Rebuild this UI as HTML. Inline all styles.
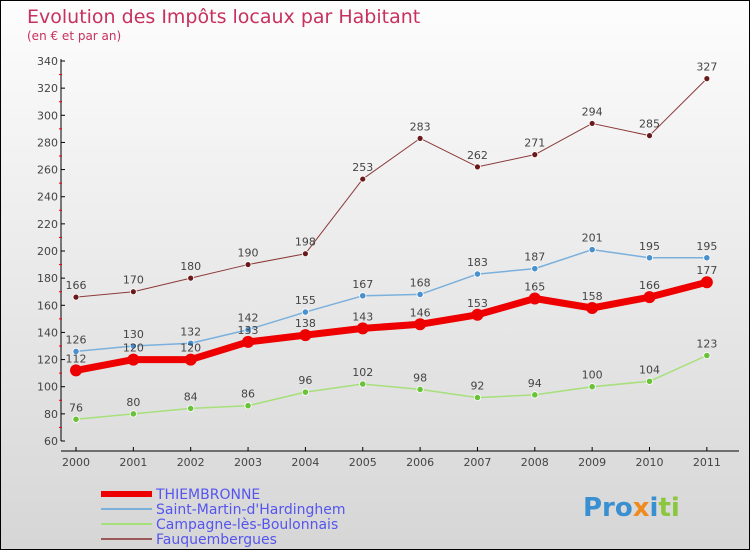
<!DOCTYPE html>
<html><head><meta charset="utf-8"><style>
body{margin:0;}
#wrap{position:relative;width:748px;height:548px;border:1px solid #000;background:linear-gradient(#fdfdfd,#d6d6d6);font-family:"DejaVu Sans","Liberation Sans",sans-serif;overflow:hidden}
</style></head><body>
<div id="wrap">
<svg id="chart" width="748" height="548"></svg>
</div>
<script>
const years=[2000,2001,2002,2003,2004,2005,2006,2007,2008,2009,2010,2011];
const thiem=[112,120,120,133,138,143,146,153,165,158,166,177];
const stmartin=[126,130,132,142,155,167,168,183,187,201,195,195];
const campagne=[76,80,84,86,96,102,98,92,94,100,104,123];
const fauq=[166,170,180,190,198,253,283,262,271,294,285,327];
const yTicks=[60,80,100,120,140,160,180,200,220,240,260,280,300,320,340];
const NS='http://www.w3.org/2000/svg';
const svg=document.getElementById('chart');
function X(i){return 75+i*57.35;}
function Y(v){return 440-(v-60)*380/280;}
function el(t,a,p){const e=document.createElementNS(NS,t);for(const k in a)e.setAttribute(k,a[k]);(p||svg).appendChild(e);return e;}
let t=el('text',{x:26,y:22,fill:'#c8305f','font-size':19});t.textContent='Evolution des Impôts locaux par Habitant';

t=el('text',{x:26,y:39,fill:'#c8305f','font-size':12});t.textContent='(en € et par an)';

// axes
let a=el('line',{x1:60,y1:58,x2:60,y2:440,stroke:'#000'});
a=el('line',{x1:60,y1:450,x2:738,y2:450,stroke:'#000'});
yTicks.forEach((v,i)=>{
  el('line',{x1:60,y1:Y(v),x2:64,y2:Y(v),stroke:'#000'});
  if(i<yTicks.length-1)el('line',{x1:58,y1:Y(v+10),x2:61,y2:Y(v+10),stroke:'#e00'});
  const tt=el('text',{x:57,y:Y(v)+4,'text-anchor':'end','font-size':11,fill:'#444'});tt.textContent=v;
  
});
years.forEach((yr,i)=>{
  el('line',{x1:X(i),y1:446,x2:X(i),y2:450,stroke:'#000'});
  const tt=el('text',{x:X(i),y:465,'text-anchor':'middle','font-size':11,fill:'#444'});tt.textContent=yr;
  
});
function series(vals,color,w,r,name,dotFill){
  const g=el('g',{});
  el('polyline',{points:vals.map((v,i)=>X(i)+','+Y(v)).join(' '),fill:'none',stroke:color,'stroke-width':w,'stroke-linejoin':'round'},g);
  vals.forEach((v,i)=>{
    const c=el('circle',{cx:X(i),cy:Y(v),r:r,fill:dotFill,stroke:'#fff','stroke-width':r>4?0:0.8},g);
    
    const tt=el('text',{x:X(i),y:Y(v)-8,'text-anchor':'middle','font-size':11,fill:'#444'},g);tt.textContent=v;
    
  });
}
series(campagne,'#a6e07a',1.5,3.2,'campagne-series','#6ac23a');
series(stmartin,'#7bb0dc',1.5,3.2,'saint-martin-series','#4a90cc');
series(fauq,'#8b3a3a',1,3,'fauquembergues-series','#6a1a1a');
series(thiem,'#ee0000',7,6,'thiembronne-series','#ee0000');
// legend
const leg=[['THIEMBRONNE','#ee0000',6],['Saint-Martin-d\'Hardinghem','#7bb0dc',2],['Campagne-lès-Boulonnais','#a6e07a',2],['Fauquembergues','#9a5a5a',2]];
leg.forEach((l,i)=>{
  const g=el('g',{});
  const y=493+i*15;
  el('line',{x1:100,y1:y,x2:151,y2:y,stroke:l[1],'stroke-width':l[2]},g);
  const tt=el('text',{x:155,y:y+5,'font-size':14,fill:'#5555ee'},g);tt.textContent=l[0];
});
const lg=el('text',{x:582,y:515,'font-size':26,'font-weight':'bold',fill:'#f39a1e'});
lg.innerHTML='<tspan fill="#3a8fd0">Pro</tspan><tspan fill="#f08a1e">x</tspan><tspan fill="#3a8fd0">i</tspan><tspan fill="#8cc63f">ti</tspan>';

</script>
</body></html>
